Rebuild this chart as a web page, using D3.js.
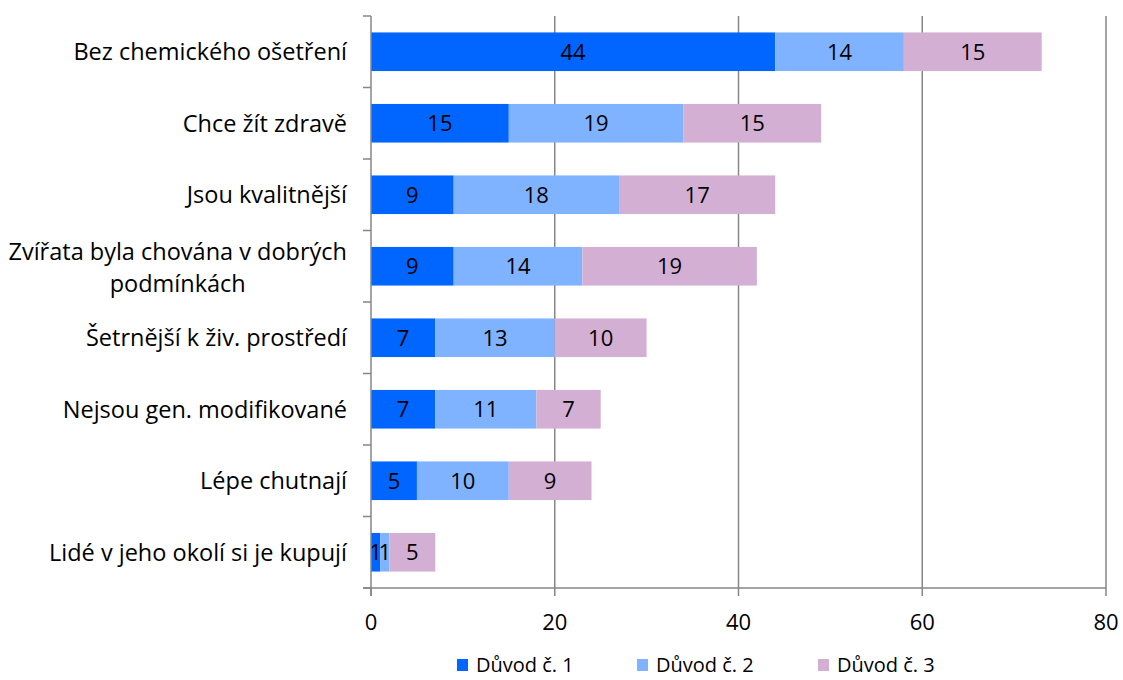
<!DOCTYPE html>
<html><head><meta charset="utf-8">
<script src="https://cdn.jsdelivr.net/npm/d3@7"></script>
<style>body{margin:0;background:#fff}svg{display:block}text{font-family:"Open Sans",sans-serif;fill:#000}</style>
</head><body>
<svg id="c" width="1123" height="680"></svg>
<script>
const categories = ["Bez chemického ošetření","Chce žít zdravě","Jsou kvalitnější","Zvířata byla chována v dobrých podmínkách","Šetrnější k živ. prostředí","Nejsou gen. modifikované","Lépe chutnají","Lidé v jeho okolí si je kupují"];
const categoryLines = [["Bez chemického ošetření"],["Chce žít zdravě"],["Jsou kvalitnější"],["Zvířata byla chována v dobrých","podmínkách"],["Šetrnější k živ. prostředí"],["Nejsou gen. modifikované"],["Lépe chutnají"],["Lidé v jeho okolí si je kupují"]];
const seriesNames = ["Důvod č. 1","Důvod č. 2","Důvod č. 3"];
const duvod1 = [44,15,9,9,7,7,5,1];
const duvod2 = [14,19,18,14,13,11,10,1];
const duvod3 = [15,15,17,19,10,7,9,5];
const xTicks = [0,20,40,60,80];
const colors = ["#0066FF","#80B3FF","#D3AFD3"];

const svg = d3.select("#c");
const L = 371, R = 1106, T = 16, B = 588;
const x = d3.scaleLinear().domain([0,80]).range([L,R]);
const y = d3.scaleBand().domain(categories).range([T,B]).paddingInner(0.46).paddingOuter(0.23);
const series = [duvod1,duvod2,duvod3];

// gridlines
svg.append("g").selectAll("line").data(xTicks.slice(1)).join("line")
  .attr("x1",d=>x(d)).attr("x2",d=>x(d)).attr("y1",T).attr("y2",B)
  .attr("stroke","#868686").attr("stroke-width",1.5);

// bars
const stackData = categories.map((c,i)=>({cat:c, v:series.map(s=>s[i])}));
series.forEach((s,si)=>{
  const g = svg.append("g");
  stackData.forEach((d,i)=>{
    const x0 = d3.sum(d.v.slice(0,si)), x1 = x0 + d.v[si];
    g.append("rect").attr("x",x(x0)).attr("y",y(d.cat)).attr("width",x(x1)-x(x0)).attr("height",y.bandwidth()).attr("fill",colors[si]);
  });
});
// labels
series.forEach((s,si)=>{
  stackData.forEach((d,i)=>{
    const x0 = d3.sum(d.v.slice(0,si)), x1 = x0 + d.v[si];
    svg.append("text").attr("x",(x(x0)+x(x1))/2).attr("y",y(d.cat)+y.bandwidth()/2).attr("dy","0.36em")
      .attr("text-anchor","middle").attr("font-size",22).text(d.v[si]);
  });
});

// axes lines
svg.append("line").attr("x1",L).attr("x2",L).attr("y1",T).attr("y2",B+8).attr("stroke","#868686").attr("stroke-width",1.5);
svg.append("line").attr("x1",L-8).attr("x2",R).attr("y1",B).attr("y2",B).attr("stroke","#868686").attr("stroke-width",1.5);
// category ticks
d3.range(categories.length+1).forEach(i=>{
  const yy = T + i*(B-T)/categories.length;
  svg.append("line").attr("x1",L-8).attr("x2",L).attr("y1",yy).attr("y2",yy).attr("stroke","#868686").attr("stroke-width",1.5);
});
// x ticks
xTicks.forEach(t=>{
  svg.append("line").attr("x1",x(t)).attr("x2",x(t)).attr("y1",B).attr("y2",B+8).attr("stroke","#868686").attr("stroke-width",1.5);
  svg.append("text").attr("x",x(t)).attr("y",622).attr("dy","0.36em").attr("text-anchor","middle").attr("font-size",22).text(t);
});

// category labels
const catSize = 23.5;
categories.forEach((c,i)=>{
  const lines = categoryLines[i];
  const cy = y(c)+y.bandwidth()/2;
  if(lines.length===1){
    svg.append("text").attr("x",347).attr("y",cy).attr("dy","0.36em").attr("text-anchor","end").attr("font-size",catSize).text(lines[0]);
  } else {
    const t1 = svg.append("text").attr("x",347).attr("y",cy-15).attr("dy","0.36em").attr("text-anchor","end").attr("font-size",catSize).text(lines[0]);
    const w = t1.node().getComputedTextLength();
    svg.append("text").attr("x",347-w/2).attr("y",cy+17).attr("dy","0.36em").attr("text-anchor","middle").attr("font-size",catSize).text(lines[1]);
  }
});

// legend
const legX = [457,637,818];
seriesNames.forEach((n,i)=>{
  svg.append("rect").attr("x",legX[i]).attr("y",659).attr("width",11).attr("height",12).attr("fill",colors[i]);
  svg.append("text").attr("x",legX[i]+19).attr("y",665).attr("dy","0.36em").attr("font-size",20).text(n);
});
</script>
</body></html>
